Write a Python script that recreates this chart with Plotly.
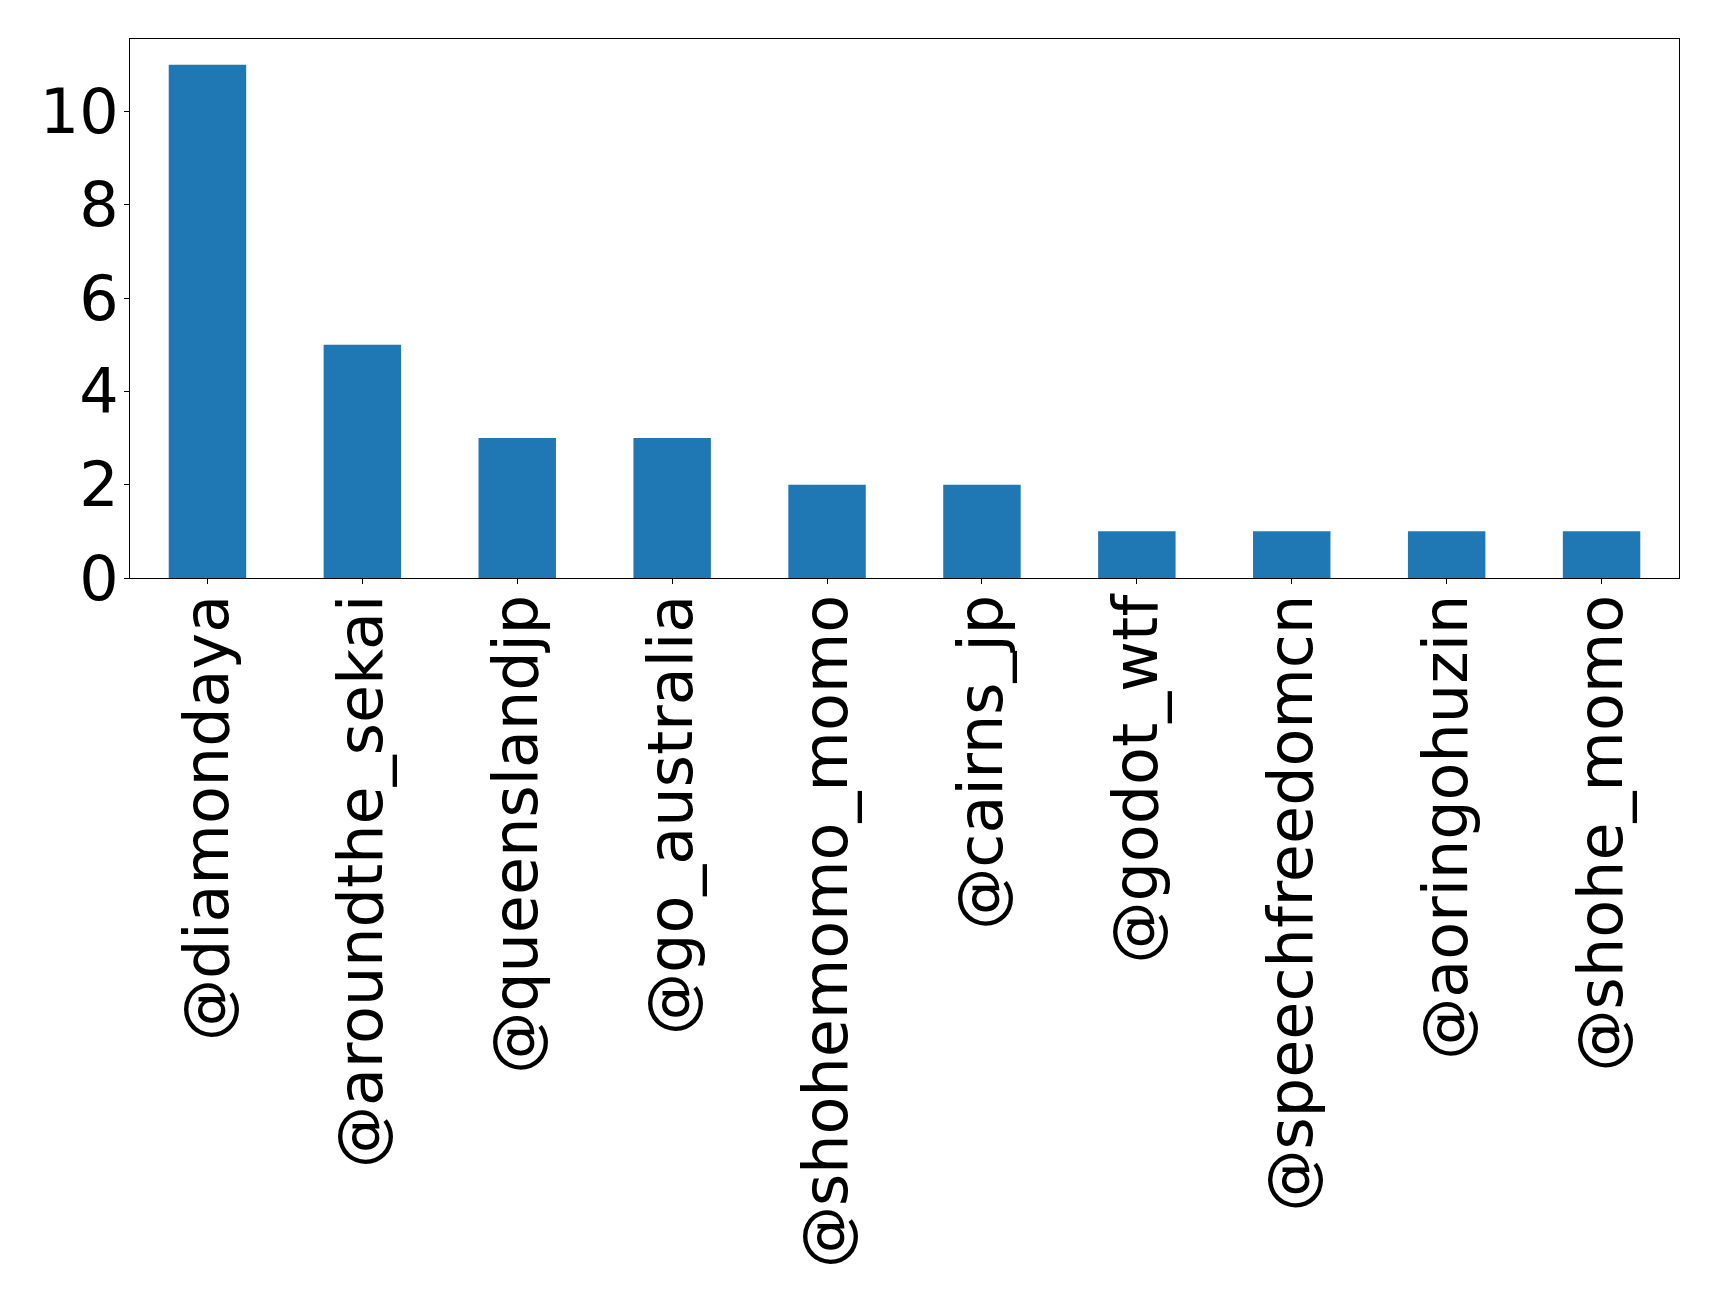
import plotly.graph_objects as go

categories = ["@diamondaya", "@aroundthe_sekai", "@queenslandjp", "@go_australia",
              "@shohemomo_momo", "@cairns_jp", "@godot_wtf", "@speechfreedomcn",
              "@aoringohuzin", "@shohe_momo"]
counts = [11, 5, 3, 3, 2, 2, 1, 1, 1, 1]
ytick_vals = [0, 2, 4, 6, 8, 10]

fig = go.Figure()
fig.add_trace(go.Bar(
    x=list(range(len(categories))), y=counts, width=0.5,
    marker=dict(color="#1f77b4", line=dict(width=0)),
))

font = dict(family="DejaVu Sans", size=62, color="black")
fig.update_layout(
    width=1719, height=1306,
    margin=dict(l=130, r=40, t=39, b=728, autoexpand=False),
    plot_bgcolor="white", paper_bgcolor="white",
    showlegend=False,
    font=font,
)
fig.update_xaxes(
    range=[-0.5, 9.5], tickmode="array", tickvals=list(range(len(categories))),
    ticktext=categories, tickangle=-90, tickfont=font,
    showline=True, mirror=True, linecolor="black", linewidth=1,
    ticks="outside", ticklen=5, tickwidth=1, tickcolor="black",
    showgrid=False, zeroline=False, ticklabelstandoff=-14,
)
fig.update_yaxes(
    range=[0, 11.55], tickmode="array", tickvals=ytick_vals,
    ticktext=[str(v) for v in ytick_vals], tickfont=font,
    showline=True, mirror=True, linecolor="black", linewidth=1,
    ticks="outside", ticklen=5, tickwidth=1, tickcolor="black",
    showgrid=False, zeroline=False, ticklabelstandoff=-7,
)
fig.write_html("out.html", config={"displayModeBar": False},
               post_script="document.body.style.margin='0';")
